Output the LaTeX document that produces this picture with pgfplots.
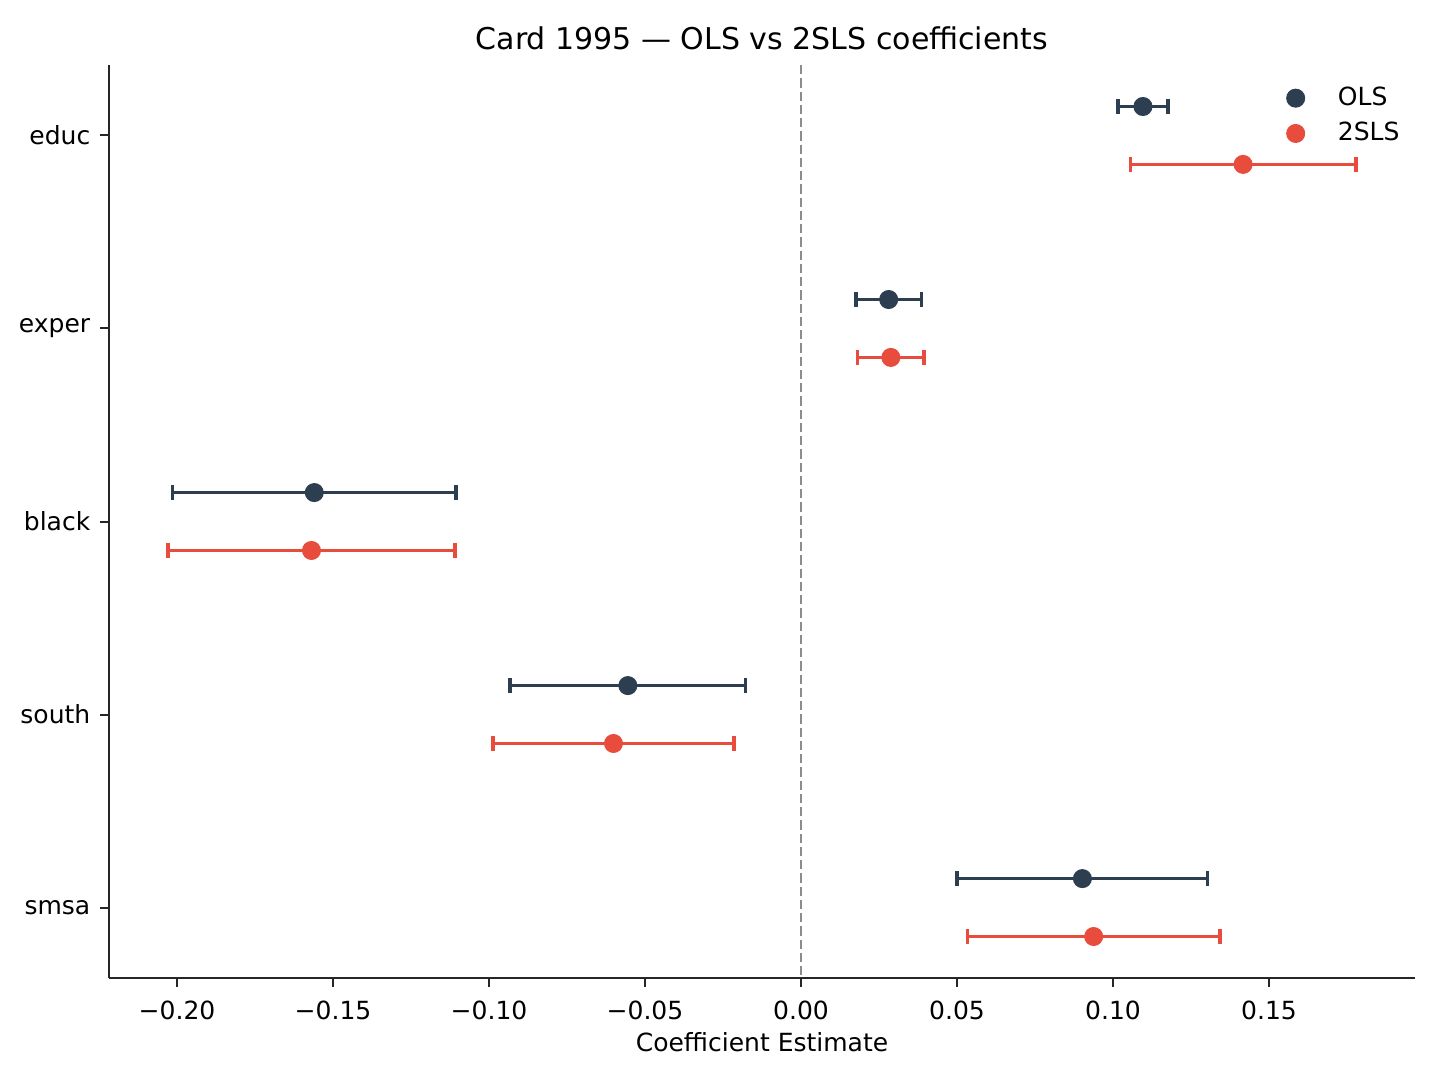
\documentclass[border=0pt]{standalone}
\usepackage{fontspec}
\setmainfont{DejaVu Sans}
\usepackage{pgfplots}
\usepackage{pgfplotstable}
\pgfplotsset{compat=1.18}

\definecolor{olscol}{HTML}{2C3E50}
\definecolor{tslscol}{HTML}{E74C3C}

% y = category position (educ=0 ... smsa=4) with a small offset per estimator
\pgfplotstableread{
y     x        err
-0.15 0.1096  0.0080
0.85  0.0281  0.0105
1.85  -0.1560 0.0454
2.85  -0.0555 0.0378
3.85  0.0902  0.0402
}\olsdata

\pgfplotstableread{
y     x        err
0.15  0.1417  0.0362
1.15  0.0288  0.0106
2.15  -0.1569 0.0460
3.15  -0.0601 0.0386
4.15  0.0938  0.0405
}\tslsdata

\begin{document}
\begin{tikzpicture}
\begin{axis}[
    name=ax,
    scale only axis,
    width=522.4pt, height=365.2pt,
    xmin=-0.2218, xmax=0.1968,
    ymin=-0.365, ymax=4.365,
    y dir=reverse,
    axis x line*=bottom,
    axis y line*=left,
    axis line style={line width=0.8pt, black!85},
    tick align=outside,
    major tick length=3.5pt,
    tick style={line width=0.8pt, black!85},
    xtick={-0.2,-0.15,-0.1,-0.05,0,0.05,0.1,0.15},
    xticklabels={−0.20,−0.15,−0.10,−0.05,0.00,0.05,0.10,0.15},
    ytick={0,1,2,3,4},
    yticklabels={educ,exper,black,south,smsa},
    xticklabel style={anchor=base, yshift=-13.2pt, inner sep=0pt},
    yticklabel style={anchor=east, xshift=-3.8pt, inner sep=0pt},
    tick label style={font=\fontsize{10}{12}\selectfont},
    title={Card 1995 — OLS vs 2SLS coefficients},
    title style={at={(0.5,1)}, anchor=base, yshift=0.4pt, font=\fontsize{12}{14}\selectfont},
    xlabel={Coefficient Estimate},
    xlabel style={at={(0.5,0)}, anchor=base, yshift=-29.2pt, font=\fontsize{10}{12}\selectfont},
    legend style={draw=none, fill=none, at={(1,1)}, anchor=north east,
        xshift=-4pt, yshift=-6.6pt, inner sep=0pt, row sep=1.2pt,
        font=\fontsize{10}{12}\selectfont},
    legend cell align=left,
    legend image code/.code={\draw[#1] plot coordinates {(0pt,0pt)}; \path (-4pt,0pt) (14.7pt,0pt);},
]
\addplot[gray!90, line width=0.9pt, dash pattern=on 3.7pt off 1.6pt, forget plot]
    coordinates {(0,-0.365) (0,4.365)};

\addplot[draw=none, mark=none, forget plot,
    error bars/.cd, x dir=both, x explicit,
    error bar style={line width=1.3pt, olscol},
    error mark options={rotate=90, mark size=3pt, line width=1.3pt, olscol}]
    table[x=x, y=y, x error=err] {\olsdata};
\addplot[only marks, mark=*, mark size=3.6pt, color=olscol]
    table[x=x, y=y] {\olsdata};

\addplot[draw=none, mark=none, forget plot,
    error bars/.cd, x dir=both, x explicit,
    error bar style={line width=1.3pt, tslscol},
    error mark options={rotate=90, mark size=3pt, line width=1.3pt, tslscol}]
    table[x=x, y=y, x error=err] {\tslsdata};
\addplot[only marks, mark=*, mark size=3.6pt, color=tslscol]
    table[x=x, y=y] {\tslsdata};

\legend{OLS, 2SLS}
\end{axis}
\path ([xshift=-43.6pt, yshift=-37.6pt]ax.south west) rectangle ([xshift=10pt, yshift=26pt]ax.north east);
\end{tikzpicture}
\end{document}
